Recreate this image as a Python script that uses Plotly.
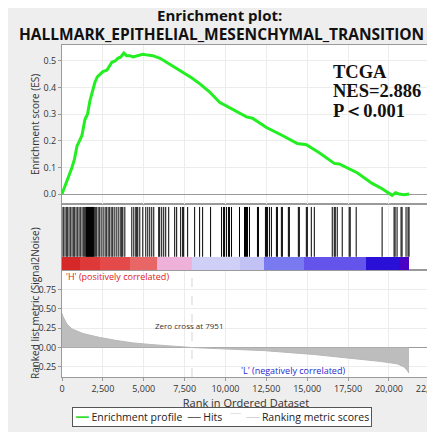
import plotly.graph_objects as go

# ---------------- data ----------------
es_rank = [0, 150, 305, 460, 610, 760, 915, 1070, 1220, 1403, 1560, 1708, 1860, 2013, 2160, 2318,
           2500, 2745, 2900, 3050, 3250, 3416, 3600, 3782, 3950, 4148, 4350, 4575, 4750, 4941,
           5250, 5551, 6000, 6405, 6900, 7381, 7900, 8418, 9000, 9638, 10431, 11285, 11651,
           12505, 13481, 14396, 14945, 15738, 16653, 16958, 18056, 18971, 19581, 19825, 20191,
           20400, 20618, 20923, 21228]
es_val = [0.0, 0.025, 0.05, 0.07, 0.10, 0.13, 0.18, 0.20, 0.22, 0.28, 0.30, 0.35, 0.39, 0.42,
          0.44, 0.45, 0.46, 0.465, 0.48, 0.495, 0.50, 0.51, 0.515, 0.53, 0.52, 0.52, 0.515,
          0.518, 0.522, 0.525, 0.522, 0.52, 0.51, 0.495, 0.478, 0.457, 0.438, 0.415, 0.385,
          0.345, 0.32, 0.29, 0.285, 0.25, 0.22, 0.19, 0.185, 0.155, 0.115, 0.113, 0.08, 0.04,
          0.02, 0.01, -0.005, 0.005, 0.0, -0.003, 0.0]

hit_ranks = [61, 122, 244, 305, 366, 488, 549, 671, 732, 793, 915, 976, 1098, 1159, 1281, 1342,
             1403, 1464, 1494, 1525, 1555, 1586, 1616, 1647, 1677, 1708, 1738, 1769, 1799, 1830,
             1860, 1891, 1921, 1952, 2013, 2074, 2135, 2257, 2318, 2440, 2562, 2684, 2745, 2867,
             2928, 3050, 3111, 3233, 3355, 3477, 3599, 3660, 3721, 3843, 4270, 4392, 4514, 4575,
             4636, 4758, 4941, 5124, 5246, 5368, 5490, 5612, 5917, 5978, 6100, 6222, 6344, 6527,
             6893, 7015, 7259, 7381, 7442, 7686, 8113, 8418, 8601, 9089, 9760, 9882, 9943, 10065,
             10187, 10248, 10370, 10858, 11163, 11224, 11285, 11346, 11468, 11956, 12017, 12444,
             12505, 12566, 12688, 12810, 13115, 13176, 13420, 13481, 13847, 13908, 14457, 14518,
             14945, 15006, 15250, 15433, 16531, 16653, 16714, 16836, 17141, 17568, 17629, 17995,
             19581, 20313, 20374, 20496, 20740, 20801, 21045, 21167, 21228]

metric_rank = [0, 61, 305, 610, 1281, 2318, 3355, 4331, 5368, 6405, 7625, 7951, 9333, 12383,
               15433, 17873, 19520, 20496, 20923, 21100, 21228]
metric_val = [0.44, 0.40, 0.30, 0.24, 0.18, 0.13, 0.09, 0.06, 0.04, 0.02, 0.005, 0.0, -0.01,
              -0.04, -0.09, -0.14, -0.18, -0.21, -0.25, -0.29, -0.33]

band_edges = [0, 1100, 2300, 4150, 5800, 7930, 10860, 12380, 14820, 18600, 20620, 21228]
band_colors = ['#d62828', '#de3838', '#e44a4a', '#e86666', '#eeb2da', '#cfcff7', '#c2c2f4',
               '#7a7af0', '#6454ec', '#2a10d6', '#4a00c4']

zero_cross = 7951
x_ticks = [0, 2500, 5000, 7500, 10000, 12500, 15000, 17500, 20000, 22500]
es_ticks = [0.0, 0.1, 0.2, 0.3, 0.4, 0.5]
metric_ticks = [-0.25, 0.0, 0.25, 0.5, 0.75]
stats_lines = ['TCGA', 'NES=2.886', 'P＜0.001']
legend_names = ['Enrichment profile', 'Hits', 'Ranking metric scores']

# ---------------- layout geometry (page pixels) ----------------
FONT = 'Open Sans'
W, H = 435, 432
OFF = 8                      # page body offset
PL, PT, PR, PB = 62, 45, 430, 377   # plot area on the page
L, T = PL - OFF, PT - OFF
R, B = W - (PR - OFF), H - (PB - OFF)


def px(xpx):
    return (xpx - PL) / (PR - PL)


def py(ypx):
    return (PB - ypx) / (PB - PT)


fig = go.Figure()

fig.add_trace(go.Scatter(x=es_rank, y=es_val, mode='lines', name=legend_names[0],
                         line=dict(color='#22ee22', width=3), xaxis='x3', yaxis='y3'))

hx, hy = [], []
for r in hit_ranks:
    hx += [r, r, None]
    hy += [0.2, 0.955, None]
fig.add_trace(go.Scatter(x=hx, y=hy, mode='lines', name=legend_names[1],
                         line=dict(color='black', width=1), xaxis='x2', yaxis='y2'))

centers = [(a + b) / 2 for a, b in zip(band_edges[:-1], band_edges[1:])]
widths = [b - a for a, b in zip(band_edges[:-1], band_edges[1:])]
fig.add_trace(go.Bar(x=centers, y=[0.197] * len(centers), width=widths, base=0,
                     marker=dict(color=band_colors, line=dict(width=0)),
                     hoverinfo='skip', xaxis='x2', yaxis='y2'))

fig.add_trace(go.Scatter(x=metric_rank, y=metric_val, mode='lines', fill='tozeroy',
                         name=legend_names[2],
                         line=dict(color='#b8b8b8', width=1), fillcolor='#bdbdbd',
                         xaxis='x', yaxis='y'))
fig.add_trace(go.Scatter(x=[zero_cross, zero_cross], y=[-0.38, 1.0], mode='lines',
                         line=dict(color='#d4d4d4', width=1, dash='dash'),
                         xaxis='x', yaxis='y'))

axis_common = dict(showline=True, linecolor='#9a9a9a', linewidth=1, mirror=True,
                   showgrid=True, gridcolor='#ececec', gridwidth=1, zeroline=False,
                   tickfont=dict(family=FONT, size=9, color='#333333'))

xcommon = dict(axis_common, range=[0, 22510], tickvals=x_ticks)

fig.update_layout(
    width=W, height=H,
    margin=dict(l=L, r=R, t=T, b=B, autoexpand=False),
    paper_bgcolor='#eeeeee', plot_bgcolor='white',
    showlegend=False,
    xaxis=dict(xcommon, anchor='y', tickformat=',d', ticks='outside', ticklen=3,
               tickcolor='#9a9a9a', ticklabeloverflow='allow',
               title=dict(text='Rank in Ordered Dataset', standoff=2,
                          font=dict(family=FONT, size=11, color='#333333'))),
    xaxis2=dict(xcommon, anchor='y2', matches='x', showticklabels=False),
    xaxis3=dict(xcommon, anchor='y3', matches='x', showticklabels=False),
    yaxis=dict(axis_common, domain=[0, 0.3223], range=[-0.38, 1.0], tickvals=metric_ticks,
               tickformat='.2f', ticks='outside', ticklen=3, tickcolor='#9a9a9a',
               zeroline=True, zerolinecolor='#9a9a9a', zerolinewidth=1),
    yaxis2=dict(axis_common, domain=[0.3223, 0.5211], range=[0, 1], showticklabels=False,
                showgrid=False),
    yaxis3=dict(axis_common, domain=[0.5211, 1], range=[-0.0375, 0.56], tickvals=es_ticks,
                tickformat='.1f', ticks='outside', ticklen=3, tickcolor='#9a9a9a',
                zeroline=True, zerolinecolor='#9a9a9a', zerolinewidth=1),
    bargap=0,
)


def note(text, x, y, size, color='#111111', family=FONT, **kw):
    fig.add_annotation(text=text, xref='paper', yref='paper', x=px(x), y=py(y),
                       xanchor=kw.pop('xanchor', 'center'), yanchor=kw.pop('yanchor', 'middle'),
                       showarrow=False, font=dict(family=family, size=size, color=color), **kw)


note('<b>Enrichment plot:</b>', 219, 15, 15)
note('<b>HALLMARK_EPITHELIAL_MESENCHYMAL_TRANSITION</b>', 221, 34, 15.5)

for i, t in enumerate(stats_lines):
    note('<b>' + t + '</b>', 331, 72 + i * 19.5, 18.5, family='Liberation Serif', xanchor='left')

note('Enrichment score (ES)', 35, 124, 10, color='#333333', textangle=-90)
note('Ranked list metric (Signal2Noise)', 35, 303, 10, color='#333333', textangle=-90)

# legend drawn as a text box
seg = '<span style="font-family:DejaVu Sans;color:{c}">{g}</span>'
legend_text = (seg.format(c='#33dd33', g='━━') + ' ' + legend_names[0] + '  '
               + seg.format(c='#555555', g='──') + ' ' + legend_names[1] + '   '
               + seg.format(c='#dddddd', g='‾‾') + '  '
               + seg.format(c='#d0d0d0', g='──') + ' ' + legend_names[2])
note(legend_text, 222, 417, 10.5, color='#222222', bgcolor='white', bordercolor='#555555',
     borderwidth=1, borderpad=2)

fig.add_annotation(text='Zero cross at ' + str(zero_cross), x=zero_cross, y=0.29, xref='x',
                   yref='y', xanchor='center', yanchor='middle', xshift=-2, showarrow=False,
                   font=dict(family=FONT, size=8, color='#333333'))
fig.add_annotation(text="'H' (positively correlated)", x=100, y=0.92, xref='x', yref='y',
                   xanchor='left', yanchor='middle', showarrow=False,
                   font=dict(family=FONT, size=9, color='#e02020'))
fig.add_annotation(text="'L' (negatively correlated)", x=17446, y=-0.295, xref='x', yref='y',
                   xanchor='right', yanchor='middle', showarrow=False,
                   font=dict(family=FONT, size=9, color='#2a2ad0'))

fig.write_html('out.html')
